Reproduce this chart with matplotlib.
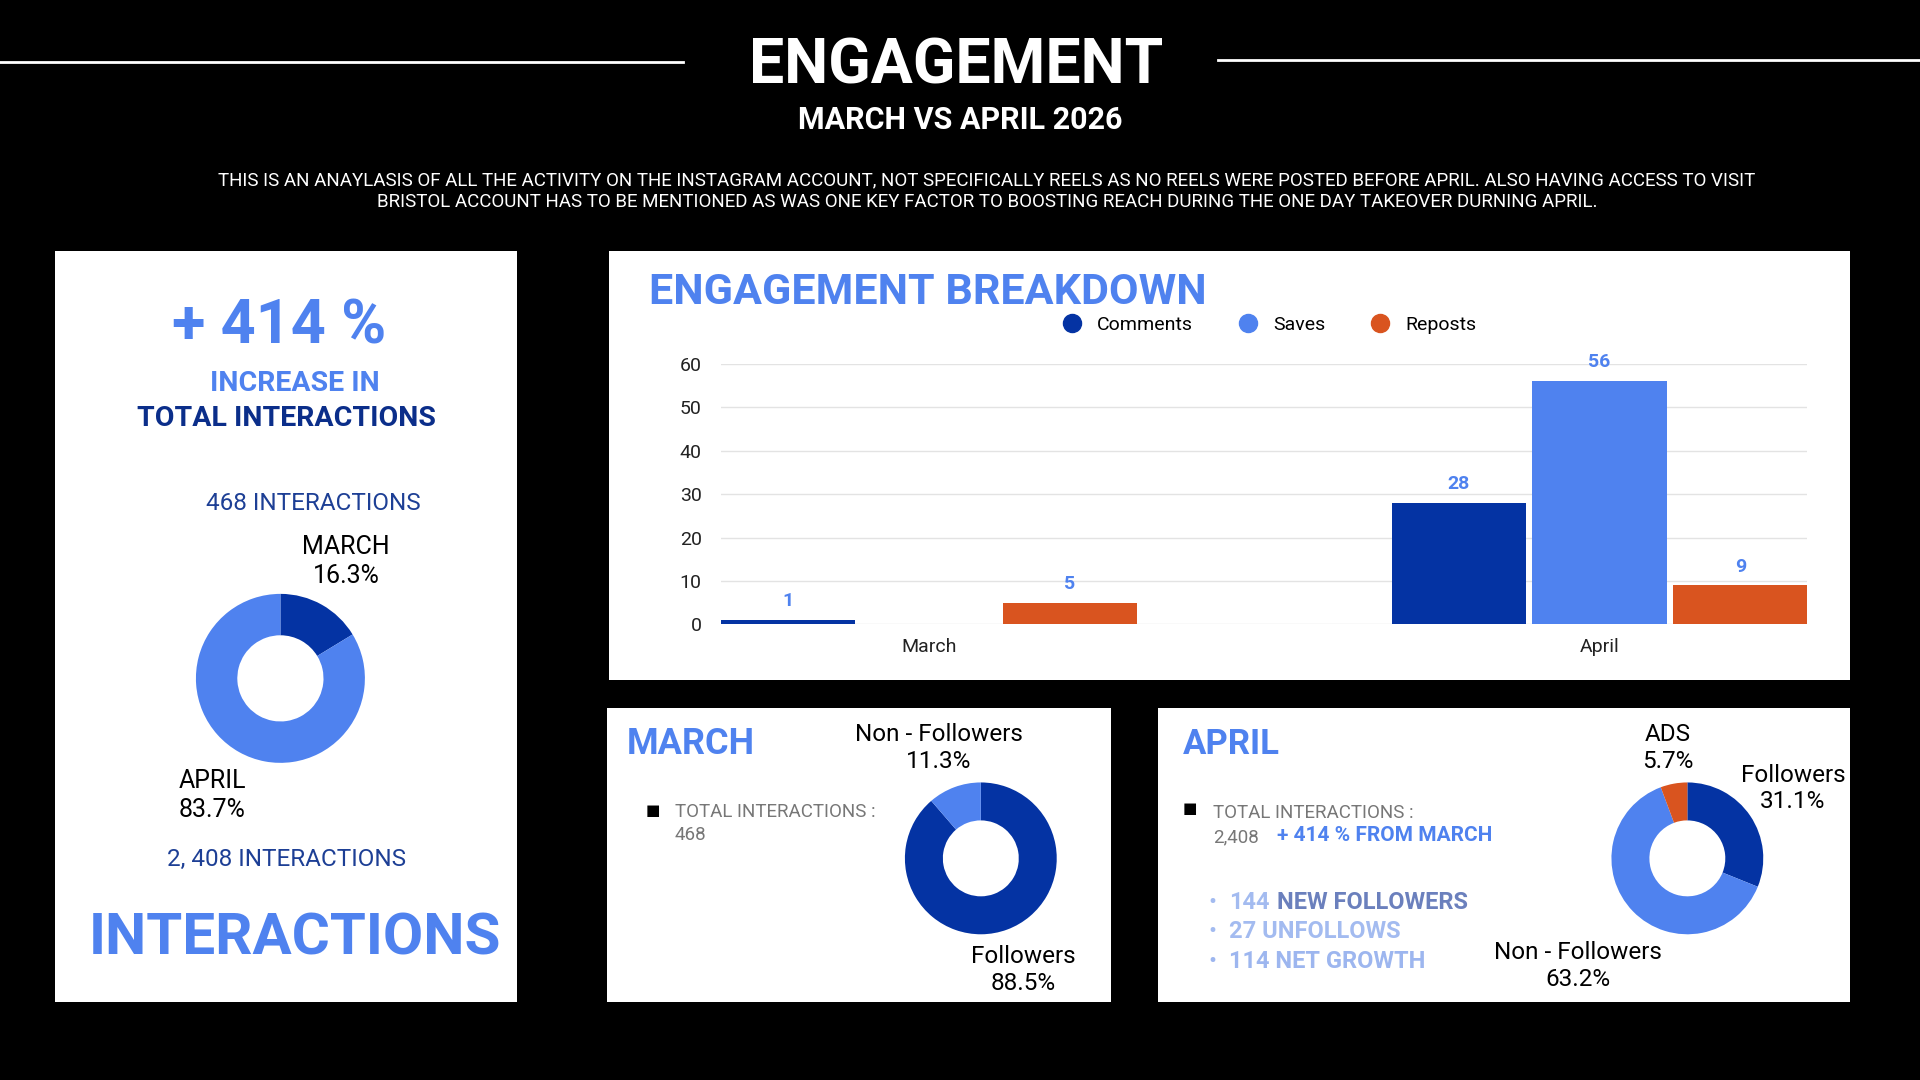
import numpy as np
import matplotlib
matplotlib.use("Agg")
import matplotlib.pyplot as plt
from matplotlib.patches import Rectangle
from matplotlib.lines import Line2D

# data
categories = ["March", "April"]
comments = [1, 28]
saves = [0, 56]
reposts = [5, 9]
series_names = ["Comments", "Saves", "Reposts"]

share_labels = ["MARCH", "APRIL"]
share_values = [16.3, 83.7]

march_aud_labels = ["Followers", "Non - Followers"]
march_aud_values = [88.5, 11.3]

april_aud_labels = ["Followers", "Non - Followers", "ADS"]
april_aud_values = [31.1, 63.2, 5.7]

DARK = "#0433a3"
LIGHT = "#4f82ef"
ORANGE = "#d9541f"
NAVY = "#0b2e8a"
GREY = "#777777"

plt.rcParams["font.family"] = ["Roboto", "DejaVu Sans"]

fig = plt.figure(figsize=(19.2, 10.8), dpi=100, facecolor="black")

# layout grid (1568 x 882)
W, H = 1568.0, 882.0
def fx(x): return x / W
def fy(y): return 1 - y / H

def panel(x0, y0, x1, y1):
    fig.add_artist(Rectangle((fx(x0), fy(y1)), (x1 - x0) / W, (y1 - y0) / H,
                             transform=fig.transFigure, facecolor="white",
                             edgecolor="none", zorder=-1))

def ftext(x, y, s, **kw):
    kw.setdefault("va", "center")
    return fig.text(fx(x), fy(y), s, **kw)

# ---- header ----
fig.add_artist(Line2D([fx(0), fx(558)], [fy(51), fy(51)], color="white", lw=2,
                      transform=fig.transFigure))
fig.add_artist(Line2D([fx(995), fx(1568)], [fy(49), fy(49)], color="white", lw=2,
                      transform=fig.transFigure))
ftext(781, 54, "ENGAGEMENT", ha="center", color="white", fontsize=45,
      fontweight="bold")
ftext(784, 98, "MARCH VS APRIL 2026", ha="center", color="white", fontsize=22,
      fontweight="bold")
desc1 = ("THIS IS AN ANAYLASIS OF ALL THE ACTIVITY ON THE INSTAGRAM ACCOUNT, NOT SPECIFICALLY "
         "REELS AS NO REELS WERE POSTED BEFORE APRIL. ALSO HAVING ACCESS TO VISIT")
desc2 = ("BRISTOL ACCOUNT HAS TO BE MENTIONED AS WAS ONE KEY FACTOR TO BOOSTING REACH "
         "DURING THE ONE DAY TAKEOVER DURNING APRIL.")
ftext(806, 147, desc1, ha="center", color="white", fontsize=13.5)
ftext(806, 165, desc2, ha="center", color="white", fontsize=13.5)

# ---- panels ----
panel(45, 205, 422, 818)
panel(497, 205, 1511, 555)
panel(496, 578, 907, 818)
panel(946, 578, 1511, 818)

# ---- left panel ----
ftext(228, 267, "+ 414 %", ha="center", color=LIGHT, fontsize=44, fontweight="bold")
ftext(241, 313, "INCREASE IN", ha="center", color=LIGHT, fontsize=20.5, fontweight="bold")
ftext(234, 342, "TOTAL INTERACTIONS", ha="center", color=NAVY, fontsize=20.5,
      fontweight="bold")
ftext(256, 411, "468 INTERACTIONS", ha="center", color="#1d3f95", fontsize=17.5)
ftext(234, 702, "2, 408 INTERACTIONS", ha="center", color="#1d3f95", fontsize=17.5)
ftext(241, 767, "INTERACTIONS", ha="center", color=LIGHT, fontsize=42, fontweight="bold")

def donut_axes(cx, cy, r):
    ax = fig.add_axes([fx(cx - r), fy(cy + r), 2 * r / W, 2 * r / H])
    ax.axis("off")
    return ax

def fix_limits(ax):
    ax.set_xlim(-1, 1)
    ax.set_ylim(-1, 1)
    ax.set_aspect("equal")

ax1 = donut_axes(229, 554, 69)
ax1.pie(share_values, colors=[DARK, LIGHT], startangle=90, counterclock=False,
        radius=1, wedgeprops=dict(width=0.49, edgecolor="none"))
fix_limits(ax1)
ax1.text(0.78, 1.38, f"{share_labels[0]}\n{share_values[0]}%", ha="center",
         va="center", fontsize=18, color="black", linespacing=1.25)
ax1.text(-1.2, -1.39, f"{share_labels[1]}\n{share_values[1]}%", ha="left",
         va="center", fontsize=18, color="black", linespacing=1.25)

# ---- bar chart ----
ax = fig.add_axes([fx(589), fy(510), (1476 - 589) / W, (510 - 297) / H])
ax.set_facecolor("none")
x = np.arange(len(categories))
offsets = [-0.21, 0, 0.21]
colors = [DARK, LIGHT, ORANGE]
for vals, off, col, name in zip([comments, saves, reposts], offsets, colors, series_names):
    bars = ax.bar(x + off, vals, width=0.2, color=col, label=name, zorder=3)
    for b, v in zip(bars, vals):
        if v > 0:
            ax.annotate(str(v), (b.get_x() + b.get_width() / 2, v), xytext=(0, 7),
                        textcoords="offset points", ha="center", va="bottom",
                        color=LIGHT, fontsize=14, fontweight="bold")
ax.set_xlim(-0.31, 1.31)
ax.set_ylim(0, 60)
ax.set_yticks(np.arange(0, 61, 10))
ax.set_xticks(x)
ax.set_xticklabels(categories)
ax.tick_params(length=0, labelsize=14, colors="#222222")
ax.tick_params(axis="y", pad=14)
ax.tick_params(axis="x", pad=10)
ax.grid(axis="y", color="#e3e3e3", lw=1, zorder=0)
for s in ax.spines.values():
    s.set_visible(False)
handles = [Line2D([], [], marker="o", ls="none", markersize=13, color=c) for c in colors]
ax.legend(handles, series_names, loc="center", bbox_to_anchor=(0.5, 1.15), ncol=3,
          frameon=False, fontsize=14, handletextpad=0.3, columnspacing=1.8)
ftext(530, 239, "ENGAGEMENT BREAKDOWN", ha="left", color=LIGHT, fontsize=31,
      fontweight="bold")

# ---- March panel ----
ftext(512, 608, "MARCH", ha="left", color=LIGHT, fontsize=26, fontweight="bold")
ftext(533, 662, "\u25a0", ha="center", color="black", fontsize=11)
ftext(551, 663, "TOTAL INTERACTIONS :", ha="left", color=GREY, fontsize=13.5)
ftext(551, 682, "468", ha="left", color=GREY, fontsize=13.5)

ax2 = donut_axes(801, 701, 62)
ax2.pie(march_aud_values, colors=[DARK, LIGHT], startangle=90, counterclock=False,
        radius=1, wedgeprops=dict(width=0.5, edgecolor="none"))
fix_limits(ax2)
ax2.text(-0.55, 1.45, f"{march_aud_labels[1]}\n{march_aud_values[1]}%", ha="center",
         va="center", fontsize=17.5, linespacing=1.2)
ax2.text(0.56, -1.47, f"{march_aud_labels[0]}\n{march_aud_values[0]}%", ha="center",
         va="center", fontsize=17.5, linespacing=1.2)

# ---- April panel ----
ftext(966, 608, "APRIL", ha="left", color=LIGHT, fontsize=25, fontweight="bold")
ftext(972, 661, "\u25a0", ha="center", color="black", fontsize=11)
ftext(991, 664, "TOTAL INTERACTIONS :", ha="left", color=GREY, fontsize=13.5)
ftext(991, 684, "2,408", ha="left", color=GREY, fontsize=13.5)
ftext(1043, 682, "+ 414 % FROM MARCH", ha="left", color=LIGHT, fontsize=15,
      fontweight="bold")
ftext(990, 737, "\u2022", ha="center", color="#a3bbf0", fontsize=17)
ftext(1004, 737, "144", ha="left", color="#a3bbf0", fontsize=17, fontweight="bold")
ftext(1043, 737, "NEW FOLLOWERS", ha="left", color="#6b80bd", fontsize=17,
      fontweight="bold")
ftext(990, 761, "\u2022", ha="center", color="#a3bbf0", fontsize=17)
ftext(1004, 761, "27 UNFOLLOWS", ha="left", color="#a3bbf0", fontsize=17,
      fontweight="bold")
ftext(990, 785, "\u2022", ha="center", color="#9db6ef", fontsize=17)
ftext(1004, 785, "114 NET GROWTH", ha="left", color="#9db6ef", fontsize=17,
      fontweight="bold")

ax3 = donut_axes(1378, 701, 62)
ax3.pie(april_aud_values, colors=[DARK, LIGHT, ORANGE], startangle=90,
        counterclock=False, radius=1, wedgeprops=dict(width=0.5, edgecolor="none"))
fix_limits(ax3)
ax3.text(-0.26, 1.45, f"{april_aud_labels[2]}\n{april_aud_values[2]}%", ha="center",
         va="center", fontsize=17.5, linespacing=1.2)
ax3.text(1.39, 0.92, f"{april_aud_labels[0]}\n{april_aud_values[0]}%", ha="center",
         va="center", fontsize=17.5, linespacing=1.2)
ax3.text(-1.44, -1.42, f"{april_aud_labels[1]}\n{april_aud_values[1]}%", ha="center",
         va="center", fontsize=17.5, linespacing=1.2)

fig.savefig("out.png", dpi=100, facecolor="black")
